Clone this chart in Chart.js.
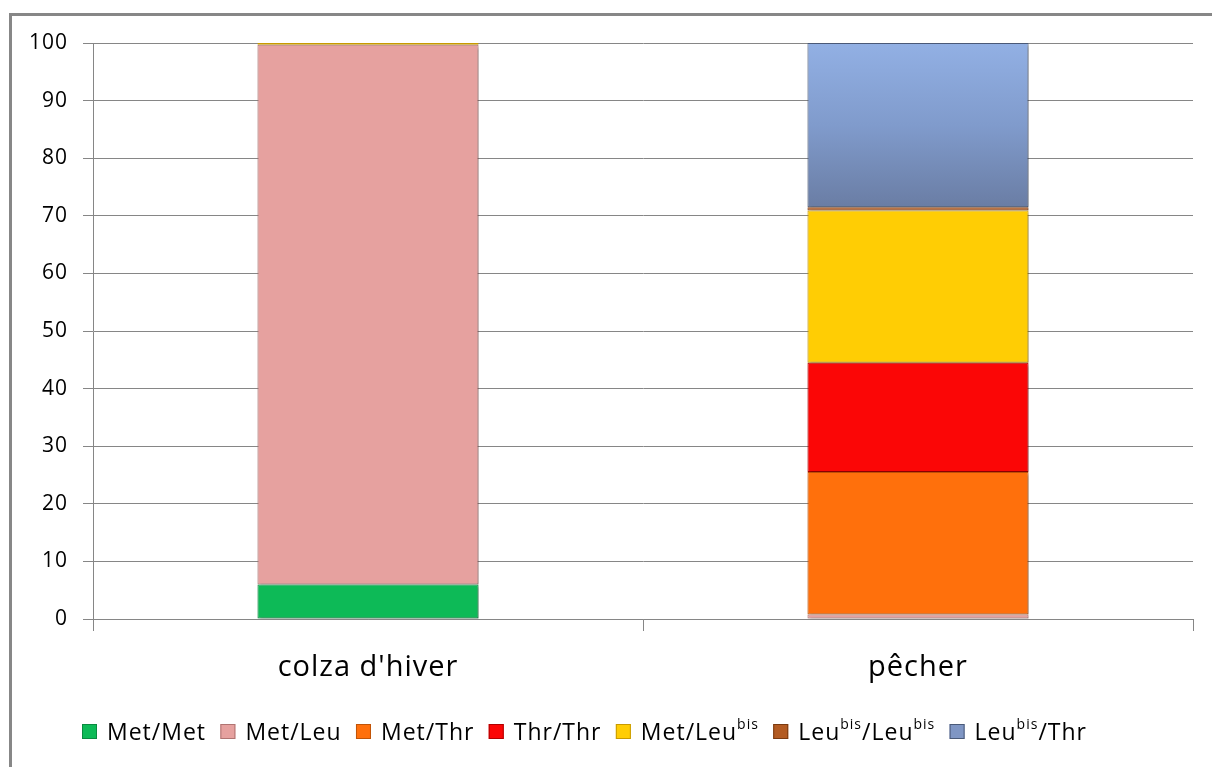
<!DOCTYPE html>
<html>
<head>
<meta charset="utf-8">
<script src="https://cdn.jsdelivr.net/npm/chart.js@4/dist/chart.umd.min.js"></script>
<style>
  body { margin: 0; background: #fff; }
</style>
</head>
<body>
<canvas id="myChart" width="1212" height="767"></canvas>
<script>
// categories and series (percent of each genotype)
var categories = ["colza d'hiver", 'pêcher'];
var seriesNames = ['Met/Met', 'Met/Leu', 'Met/Thr', 'Thr/Thr', 'Met/Leu^bis', 'Leu^bis/Leu^bis', 'Leu^bis/Thr'];
var metMet = [6, 0];
var metLeu = [93.7, 0.8];
var metThr = [0, 24.7];
var thrThr = [0, 19];
var metLeuBis = [0.3, 26.4];
var leuBisLeuBis = [0, 0.6];
var leuBisThr = [0, 28.5];
var yMax = 100;
var yStep = 10;

var fills = ['#0dba57', '#e6a19f', '#ff700c', '#fb0606', '#ffcd04', '#b35b22', null];
var edges = ['#0a8a40', '#b07472', '#c05408', '#b00000', '#c89a00', '#7a3a10', '#4a5a78'];
var legendColors = ['#0dba57', '#e6a19f', '#ff700c', '#fb0606', '#ffcd04', '#b35b22', '#7f96c4'];

var ctx = document.getElementById('myChart').getContext('2d');

function blueFill(context) {
    var chart = context.chart;
    if (!chart.chartArea) return '#7f96c4';
    var y = chart.scales.y;
    var g = chart.ctx.createLinearGradient(0, y.getPixelForValue(100), 0, y.getPixelForValue(71.5));
    g.addColorStop(0, '#92b0e4');
    g.addColorStop(0.5, '#809bcc');
    g.addColorStop(1, '#6a7da4');
    return g;
}

var allSeries = [metMet, metLeu, metThr, thrThr, metLeuBis, leuBisLeuBis, leuBisThr];
var datasets = allSeries.map(function (vals, i) {
    return {
        label: seriesNames[i],
        data: vals,
        backgroundColor: fills[i] || blueFill,
        borderColor: edges[i],
        borderWidth: 1,
        borderSkipped: false,
        categoryPercentage: 1,
        barPercentage: 0.402
    };
});

// grey frame (left and top only, the rest is cut off)
var framePlugin = {
    id: 'frame',
    beforeDraw: function (chart) {
        var c = chart.ctx;
        c.save();
        c.fillStyle = '#fff';
        c.fillRect(0, 0, chart.width, chart.height);
        c.strokeStyle = '#878787';
        c.lineWidth = 3;
        c.beginPath();
        c.moveTo(10.5, chart.height);
        c.lineTo(10.5, 14.5);
        c.lineTo(chart.width, 14.5);
        c.stroke();
        c.restore();
        // the original text is a bit wider than Open Sans
        c.letterSpacing = '1px';
    }
};

// soft shadow under the bars
var shadowPlugin = {
    id: 'barShadow',
    beforeDatasetsDraw: function (chart) {
        var c = chart.ctx;
        c.save();
        c.shadowColor = 'rgba(0,0,0,0.3)';
        c.shadowOffsetX = 2;
        c.shadowOffsetY = 2;
        c.shadowBlur = 3;
    },
    afterDatasetsDraw: function (chart) {
        chart.ctx.restore();
    }
};

// legend with superscripts (^bis)
var legendPlugin = {
    id: 'supLegend',
    afterDraw: function (chart) {
        var c = chart.ctx;
        var mainFont = '23px "Open Sans"';
        var supFont = '14px "Open Sans"';
        c.save();
        c.letterSpacing = '1px';
        var items = chart.data.datasets.map(function (ds, i) {
            var parts = ds.label.split(/\^(\w+)/);
            var w = 0;
            parts.forEach(function (p, j) {
                c.font = j % 2 ? supFont : mainFont;
                w += c.measureText(p).width;
            });
            return { parts: parts, w: w, color: legendColors[i], edge: edges[i] };
        });
        var box = 15, boxGap = 10;
        var left = 82, right = 1087;
        var used = items.reduce(function (s, it) { return s + box + boxGap + it.w; }, 0);
        var gap = (right - left - used) / (items.length - 1);
        var x = left;
        var base = 740;
        items.forEach(function (it) {
            c.fillStyle = it.color;
            c.fillRect(x, base - 16, box, box);
            c.strokeStyle = it.edge;
            c.lineWidth = 1;
            c.strokeRect(x + 0.5, base - 15.5, box - 1, box - 1);
            x += box + boxGap;
            c.fillStyle = '#000';
            c.textBaseline = 'alphabetic';
            it.parts.forEach(function (p, j) {
                if (j % 2) {
                    c.font = supFont;
                    c.fillText(p, x, base - 11);
                } else {
                    c.font = mainFont;
                    c.fillText(p, x, base);
                }
                x += c.measureText(p).width;
            });
            x += gap;
        });
        c.restore();
    }
};

var myChart = new Chart(ctx, {
    type: 'bar',
    data: {
        labels: categories,
        datasets: datasets
    },
    plugins: [framePlugin, shadowPlugin, legendPlugin],
    options: {
        responsive: false,
        animation: false,
        devicePixelRatio: 1,
        layout: {
            padding: { left: 0, top: 43, right: 19, bottom: 0 }
        },
        plugins: {
            legend: { display: false },
            tooltip: { enabled: false }
        },
        scales: {
            x: {
                stacked: true,
                afterFit: function (scale) { scale.height = 148; },
                grid: {
                    display: true,
                    drawOnChartArea: false,
                    drawTicks: true,
                    tickLength: 12,
                    color: '#868686',
                    offset: true
                },
                border: { display: true, color: '#868686' },
                ticks: {
                    color: '#000',
                    padding: 19,
                    font: { family: 'Open Sans', size: 29 }
                }
            },
            y: {
                stacked: true,
                min: 0,
                max: yMax,
                afterFit: function (scale) { scale.width = 93; },
                grid: {
                    color: '#868686',
                    tickLength: 10,
                    drawTicks: true
                },
                border: { display: true, color: '#868686' },
                ticks: {
                    stepSize: yStep,
                    color: '#000',
                    padding: 15,
                    font: { family: 'Open Sans', size: 21 }
                }
            }
        }
    }
});
</script>
</body>
</html>
